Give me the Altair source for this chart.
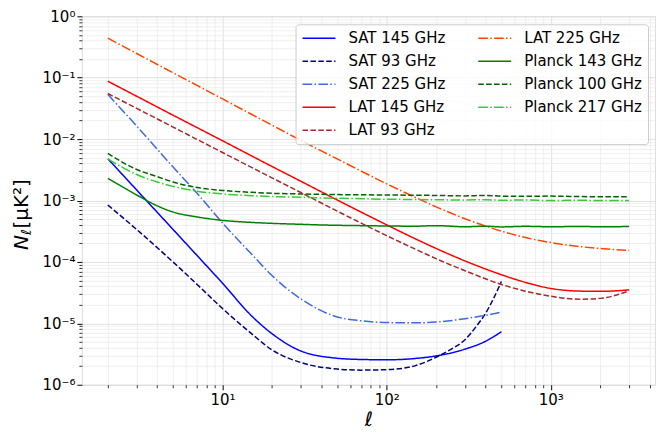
import altair as alt
import pandas as pd

# ---------------- data ----------------
ell_lat = [2, 3, 5, 7, 10, 15, 20, 30, 50, 70, 100, 150, 200, 300, 500, 700, 1000, 1500, 2000, 3000]
lat145 = [0.0877, 0.0499, 0.0245, 0.0154, 0.0094, 0.00535, 0.00359, 0.00206, 0.00102, 0.000646,
          0.000402, 0.000237, 0.000166, 0.000104, 6.2e-5, 4.65e-5, 3.7e-5, 3.35e-5, 3.32e-5, 3.5e-5]
lat93 = [0.0553, 0.0316, 0.0157, 0.00988, 0.00605, 0.00347, 0.00234, 0.00135, 0.000672, 0.000428,
         0.000268, 0.000161, 0.000113, 7.2e-5, 4.3e-5, 3.34e-5, 2.76e-5, 2.47e-5, 2.55e-5, 3.38e-5]
lat225 = [0.44, 0.248, 0.120, 0.0748, 0.0451, 0.0254, 0.0169, 0.00953, 0.00476, 0.00301,
          0.00187, 0.00112, 0.00079, 0.000506, 0.000318, 0.00025, 0.000207, 0.000178, 0.000165, 0.000154]

ell_sat = [2, 3, 5, 7, 10, 15, 20, 30, 50, 70, 100, 150, 200, 300, 400, 500]
sat145 = [4.8e-3, 1.48e-3, 3.37e-4, 1.27e-4, 4.5e-5, 1.33e-5, 6.8e-6, 3.55e-6, 2.7e-6, 2.58e-6,
          2.55e-6, 2.68e-6, 2.95e-6, 3.8e-6, 5.1e-6, 7.3e-6]
sat225 = [0.0533, 0.0163, 3.5e-3, 1.31e-3, 4.3e-4, 1.35e-4, 6.0e-5, 2.5e-5, 1.27e-5, 1.1e-5,
          1.03e-5, 1.02e-5, 1.05e-5, 1.19e-5, 1.35e-5, 1.52e-5]
ell_sat93 = [2, 3, 5, 7, 10, 15, 20, 30, 50, 70, 100, 150, 200, 250, 300, 350, 400, 450, 500]
sat93 = [8.45e-4, 3.37e-4, 9.96e-5, 4.3e-5, 1.74e-5, 6.8e-6, 3.7e-6, 2.3e-6, 1.8e-6, 1.73e-6,
         1.76e-6, 2.05e-6, 2.8e-6, 3.87e-6, 5.4e-6, 8.8e-6, 1.45e-5, 2.6e-5, 4.8e-5]

ell_planck = [2, 3, 4, 5, 7, 10, 15, 20, 30, 40, 50, 70, 100, 150, 200, 300, 400, 500, 700, 1000, 1500, 2000, 3000]
planck143 = [2.3e-3, 1.23e-3, 8.2e-4, 6.5e-4, 5.4e-4, 4.75e-4, 4.4e-4, 4.25e-4, 4.1e-4, 4.0e-4, 3.95e-4,
             3.9e-4, 3.85e-4, 3.82e-4, 3.9e-4, 3.74e-4, 3.82e-4, 3.72e-4, 3.8e-4, 3.74e-4, 3.78e-4, 3.74e-4, 3.77e-4]
planck100 = [5.85e-3, 3.2e-3, 2.45e-3, 2.0e-3, 1.63e-3, 1.46e-3, 1.36e-3, 1.31e-3, 1.28e-3, 1.26e-3, 1.25e-3,
             1.24e-3, 1.23e-3, 1.22e-3, 1.21e-3, 1.19e-3, 1.21e-3, 1.18e-3, 1.17e-3, 1.18e-3, 1.16e-3, 1.15e-3, 1.15e-3]
planck217 = [4.75e-3, 2.65e-3, 2.0e-3, 1.7e-3, 1.42e-3, 1.28e-3, 1.2e-3, 1.16e-3, 1.13e-3, 1.1e-3, 1.09e-3,
             1.07e-3, 1.05e-3, 1.04e-3, 1.03e-3, 1.02e-3, 1.03e-3, 1.01e-3, 1.02e-3, 1.0e-3, 1.01e-3, 1.0e-3, 1.0e-3]

series_names = ["SAT 145 GHz", "SAT 93 GHz", "SAT 225 GHz", "LAT 145 GHz", "LAT 93 GHz",
                "LAT 225 GHz", "Planck 143 GHz", "Planck 100 GHz", "Planck 217 GHz"]
series_ell = [ell_sat, ell_sat93, ell_sat, ell_lat, ell_lat, ell_lat, ell_planck, ell_planck, ell_planck]
series_vals = [sat145, sat93, sat225, lat145, lat93, lat225, planck143, planck100, planck217]
series_colors = ["#0000ff", "#000080", "#4169e1", "#ff0000", "#a52a2a", "#ff4500", "#008000", "#006400", "#32cd32"]
DASHED = [5.5, 2.4]
DASHDOT = [9.6, 2.4, 1.5, 2.4]
SOLID = [1, 0]
series_dash = [SOLID, DASHED, DASHDOT, SOLID, DASHED, DASHDOT, SOLID, DASHED, DASHDOT]

rows = []
for name, ells, vals in zip(series_names, series_ell, series_vals):
    for l, v in zip(ells, vals):
        rows.append({"ell": l, "N": v, "series": name})
df = pd.DataFrame(rows)

# ---------------- scales & axes ----------------
FONT = "DejaVu Sans"
xscale = alt.Scale(type="log", domain=[1.39, 4315], nice=False)
yscale = alt.Scale(type="log", domain=[1e-6, 1], nice=False)

sup = str.maketrans("-0123456789", "⁻⁰¹²³⁴⁵⁶⁷⁸⁹")


def label_expr(exps):
    expr = "''"
    for e in exps:
        expr = f"round(log(datum.value)/LN10)=={e}?'10{str(e).translate(sup)}':({expr})"
    return expr


x_major = [10, 100, 1000]
x_minor = [k * 10 ** d for d in range(0, 3) for k in range(2, 10)] + [2000, 3000, 4000]
y_major = [10.0 ** e for e in range(-6, 1)]
y_minor = [k * 10.0 ** e for e in range(-6, 0) for k in range(2, 10)]

major_x_axis = alt.Axis(values=x_major, orient="bottom", labelExpr=label_expr([1, 2, 3]),
                        tickSize=5, tickWidth=1, tickColor="black", domain=False,
                        grid=True, gridColor="#d8d8d8", gridWidth=0.8,
                        labelFont=FONT, labelFontSize=15, labelColor="black", labelPadding=3,
                        title="ℓ", titleFont=FONT, titleFontSize=20, titleFontStyle="italic",
                        titleFontWeight="normal", titleColor="black", titlePadding=2)
major_y_axis = alt.Axis(values=y_major, orient="left", labelExpr=label_expr(range(-6, 1)),
                        tickSize=5, tickWidth=1, tickColor="black", domain=False,
                        grid=True, gridColor="#d8d8d8", gridWidth=0.8,
                        labelFont=FONT, labelFontSize=15, labelColor="black", labelPadding=2,
                        title=None)
minor_x_axis = alt.Axis(values=x_minor, orient="bottom", labels=False, tickSize=3, tickWidth=0.8,
                        tickColor="black", domain=False, grid=True, gridColor="#ebebeb",
                        gridWidth=0.8, title=None)
minor_y_axis = alt.Axis(values=y_minor, orient="left", labels=False, tickSize=3, tickWidth=0.8,
                        tickColor="black", domain=False, grid=True, gridColor="#ebebeb",
                        gridWidth=0.8, title=None)

legend = alt.Legend(title=None, orient="none", legendX=214, legendY=8, columns=2,
                    symbolType="stroke", symbolSize=1089, symbolStrokeWidth=1.5, clipHeight=16,
                    rowPadding=7, columnPadding=31, labelOffset=12, labelFont=FONT,
                    labelFontSize=15, labelColor="black", labelLimit=250, padding=6,
                    fillColor="rgba(255,255,255,0.8)", strokeColor="#cccccc", cornerRadius=3,
                    gridAlign="each")

minor = alt.Chart(df).mark_point(opacity=0).encode(
    x=alt.X("ell:Q", scale=xscale, axis=minor_x_axis),
    y=alt.Y("N:Q", scale=yscale, axis=minor_y_axis),
)

lines = alt.Chart(df).mark_line(strokeWidth=1.5, interpolate="monotone").encode(
    x=alt.X("ell:Q", scale=xscale, axis=major_x_axis),
    y=alt.Y("N:Q", scale=yscale, axis=major_y_axis),
    color=alt.Color("series:N", scale=alt.Scale(domain=series_names, range=series_colors), legend=legend),
    strokeDash=alt.StrokeDash("series:N", scale=alt.Scale(domain=series_names, range=series_dash), legend=legend),
    detail="series:N",
)

one = pd.DataFrame({"k": [0]})
ytitle_N = alt.Chart(one).mark_text(text="N", angle=270, align="left", baseline="middle",
                                    font=FONT, fontSize=20, fontStyle="italic", color="black").encode(
    x=alt.value(-60), y=alt.value(234))
ytitle_l = alt.Chart(one).mark_text(text="ℓ", angle=270, align="left", baseline="middle",
                                    font=FONT, fontSize=14, fontStyle="italic", color="black").encode(
    x=alt.value(-55), y=alt.value(219))
ytitle_rest = alt.Chart(one).mark_text(text=" [μK²]", angle=270, align="left", baseline="middle",
                                       font=FONT, fontSize=20, color="black").encode(
    x=alt.value(-60), y=alt.value(212.5))

chart = alt.layer(minor, lines, ytitle_N, ytitle_l, ytitle_rest).resolve_axis(
    x="independent", y="independent"
).properties(
    width=574, height=369,
    padding={"left": 74, "top": 8, "right": 1, "bottom": 46},
    autosize=alt.AutoSizeParams(type="none"),
).configure_view(stroke="black", strokeWidth=1).configure(background="white")

chart.save("out.html", embed_options={"renderer": "svg", "actions": False})
